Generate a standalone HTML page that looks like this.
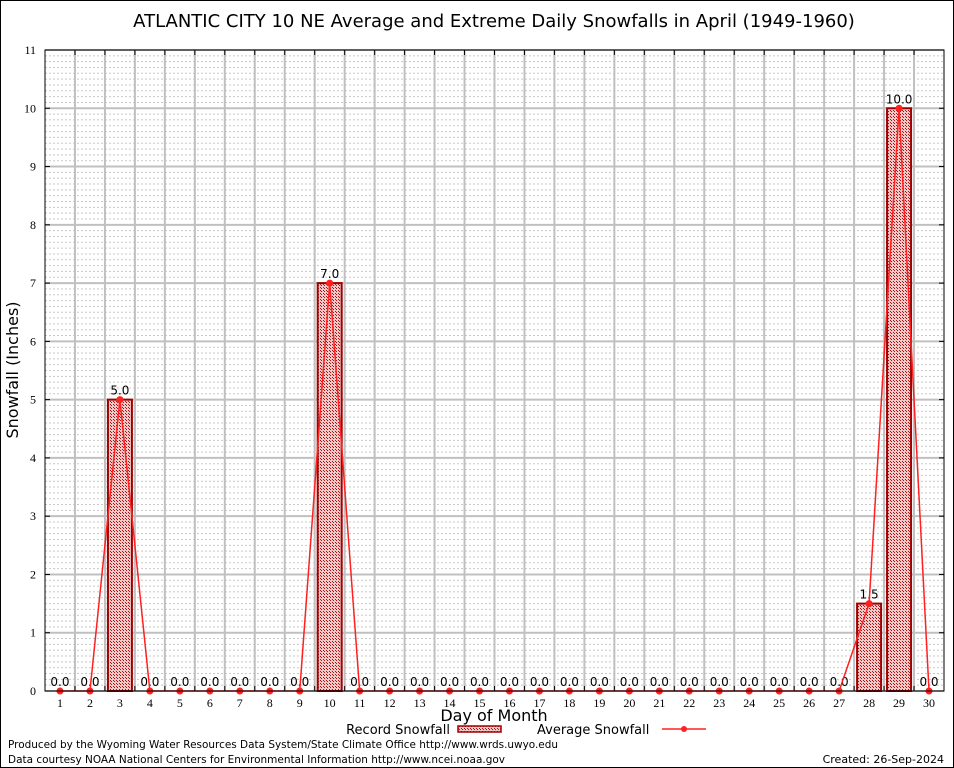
<!DOCTYPE html>
<html><head><meta charset="utf-8"><style>
body{margin:0;background:#fff}
svg{display:block;font-family:"DejaVu Sans","Liberation Sans",sans-serif}
</style></head><body>
<svg id="c" width="954" height="768" viewBox="0 0 954 768" xmlns="http://www.w3.org/2000/svg">
<defs>
<pattern id="hatch" width="3" height="3" patternUnits="userSpaceOnUse">
<rect width="3" height="3" fill="#f0c8c8"/>
<rect width="1" height="1" fill="#b01010"/>
<rect x="2" y="2" width="1" height="1" fill="#b01010"/>
</pattern>
</defs>
<rect x="0.5" y="0.5" width="953" height="767" fill="#fff" stroke="#000"/>
<text x="494" y="27" font-size="18" text-anchor="middle">ATLANTIC CITY 10 NE Average and Extreme Daily Snowfalls in April (1949-1960)</text>
<g id="grid"></g>
<g id="bars"></g>
<g id="line"></g>
<g id="axes"></g>
<text x="18" y="370" font-size="16" text-anchor="middle" transform="rotate(-90 18 370)">Snowfall (Inches)</text>
<text x="494" y="721" font-size="16" text-anchor="middle">Day of Month</text>
<g>
<text x="450" y="734" font-size="13" text-anchor="end">Record Snowfall</text>
<rect x="458" y="726" width="43" height="6" fill="url(#hatch)" stroke="#a00000" stroke-width="1.5"/>
<text x="537" y="734" font-size="13">Average Snowfall</text>
<line x1="662" y1="729" x2="706" y2="729" stroke="#ff2020" stroke-width="1.5"/>
<circle cx="684" cy="729" r="3" fill="#ff2020"/>
</g>
<text x="8" y="748" font-size="11" textLength="550" lengthAdjust="spacingAndGlyphs">Produced by the Wyoming Water Resources Data System/State Climate Office http://www.wrds.uwyo.edu</text>
<text x="8" y="763" font-size="11" textLength="497" lengthAdjust="spacingAndGlyphs">Data courtesy NOAA National Centers for Environmental Information http://www.ncei.noaa.gov</text>
<text x="944" y="763" font-size="11" text-anchor="end">Created:  26-Sep-2024</text>
</svg>
<script>
const days=[1,2,3,4,5,6,7,8,9,10,11,12,13,14,15,16,17,18,19,20,21,22,23,24,25,26,27,28,29,30];
const recordSnow=[0,0,5,0,0,0,0,0,0,7,0,0,0,0,0,0,0,0,0,0,0,0,0,0,0,0,0,1.5,10,0];
const avgSnow=[0,0,5,0,0,0,0,0,0,7,0,0,0,0,0,0,0,0,0,0,0,0,0,0,0,0,0,1.5,10,0];
const yTicks=[0,1,2,3,4,5,6,7,8,9,10,11];
const L=45,R=944,T=50,B=691;
const xs=d=>L+(d-0.5)*(R-L)/30;
const ys=v=>B-v*(B-T)/11;
const NS="http://www.w3.org/2000/svg";
function mk(tag,attrs,parent){const e=document.createElementNS(NS,tag);for(const k in attrs)e.setAttribute(k,attrs[k]);parent.appendChild(e);return e;}
const grid=document.getElementById('grid'),bars=document.getElementById('bars'),line=document.getElementById('line'),axes=document.getElementById('axes');
for(let v=0.1;v<11;v+=0.1){if(Math.abs(v-Math.round(v))<0.01)continue;
const g=mk('line',{x1:L,x2:R,y1:ys(v),y2:ys(v),stroke:'#c8c8c8','stroke-dasharray':'2,2','stroke-width':1},grid);

}
yTicks.forEach(t=>{
const g=mk('line',{x1:L,x2:R,y1:ys(t),y2:ys(t),stroke:'#c0c0c0','stroke-width':2},grid);


const tx=mk('text',{x:L-9,y:ys(t)+4,'font-size':12,'text-anchor':'end','font-family':'Liberation Serif,serif'},axes);tx.textContent=t;


mk('line',{x1:L,x2:L+5,y1:ys(t),y2:ys(t),stroke:'#000'},axes);
mk('line',{x1:R-5,x2:R,y1:ys(t),y2:ys(t),stroke:'#000'},axes);
});
for(let k=1;k<30;k++){const x=L+k*(R-L)/30;
const g=mk('line',{x1:x,x2:x,y1:T,y2:B,stroke:'#c0c0c0','stroke-width':2},grid);


mk('line',{x1:x,x2:x,y1:T,y2:T+5,stroke:'#000'},axes);
mk('line',{x1:x,x2:x,y1:B-5,y2:B,stroke:'#000'},axes);}
days.forEach((d,i)=>{
const v=recordSnow[i];
if(v>0){const w=24;const b=mk('rect',{x:xs(d)-w/2,y:ys(v),width:w,height:B-ys(v),fill:'url(#hatch)',stroke:'#a00000','stroke-width':2},bars);

}
const lb=mk('text',{x:xs(d),y:ys(v)-5,'font-size':12,'text-anchor':'middle'},bars);lb.textContent=v.toFixed(1);


const tx=mk('text',{x:xs(d),y:B+16,'font-size':12,'text-anchor':'middle','font-family':'Liberation Serif,serif'},axes);tx.textContent=d;


});
const pl=mk('polyline',{points:days.map((d,i)=>xs(d)+','+ys(avgSnow[i])).join(' '),fill:'none',stroke:'#ff2020','stroke-width':1.5},line);


days.forEach((d,i)=>{const c=mk('circle',{cx:xs(d),cy:ys(avgSnow[i]),r:3.5,fill:'#ff2020'},line);

});
const fr=mk('rect',{x:L,y:T,width:R-L,height:B-T,fill:'none',stroke:'#000'},axes);


</script>
</body></html>
